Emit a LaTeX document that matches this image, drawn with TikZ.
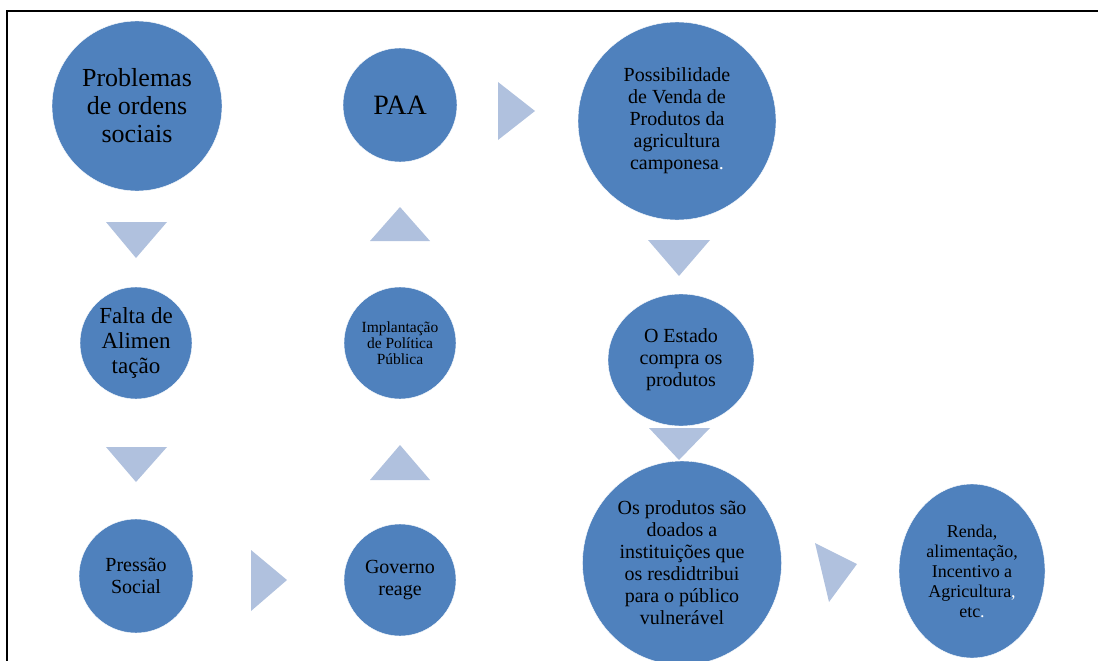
\documentclass[tikz,border=0pt]{standalone}
\usepackage{fontspec}
\setmainfont{Liberation Serif}
\usetikzlibrary{shapes.geometric}
\definecolor{bubbleblue}{RGB}{79,129,189}
\definecolor{chevfill}{RGB}{176,193,222}

\begin{document}
\begin{tikzpicture}[
    x=1pt, y=-1pt,
    % Styles
    bubble/.style={circle, fill=bubbleblue, draw=white, thin, inner sep=0pt, align=center, text=black},
    oval/.style={ellipse, fill=bubbleblue, draw=white, thin, inner sep=0pt, align=center, text=black},
    chev/.style={fill=chevfill, draw=none},
    frame/.style={line width=2pt, black},
]
\useasboundingbox (0,0) rectangle (1098,661);

% Frame
\draw[frame] (7,661) -- (7,11) -- (1098,11);

% LEFT column
\node[bubble, minimum size=170pt, font=\fontsize{26}{28}\selectfont] (problemas) at (137,106) {Problemas\\de ordens\\sociais};
\node[bubble, minimum size=112pt, font=\fontsize{23}{25}\selectfont] (falta) at (136,343) {Falta de\\Alimen\\tação};
\node[bubble, minimum size=114pt, font=\fontsize{20}{22}\selectfont] (pressao) at (136,576) {Pressão\\Social};

% MIDDLE column
\node[bubble, minimum size=112pt, font=\fontsize{20}{22}\selectfont] (governo) at (400,580) {Governo\\reage};
\node[bubble, minimum size=112pt, font=\fontsize{15.5}{16}\selectfont] (implantacao) at (400,343) {Implantação\\de Política\\Pública};
\node[bubble, minimum size=114pt, font=\fontsize{28}{30}\selectfont] (paa) at (400,105) {PAA};

% RIGHT column
\node[bubble, minimum size=198pt, font=\fontsize{20}{22}\selectfont] (venda) at (677,121) {Possibilidade\\de Venda de\\Produtos da\\agricultura\\camponesa\textcolor{white}{.}};
\node[oval, minimum width=146pt, minimum height=132pt, font=\fontsize{20}{22}\selectfont] (estado) at (681,360) {O Estado\\compra os\\produtos};
\node[oval, minimum width=199pt, minimum height=204pt, font=\fontsize{20}{22}\selectfont] (doados) at (682,563) {Os produtos são\\doados a\\instituições que\\os resdidtribui\\para o público\\vulnerável};
\node[oval, minimum width=146pt, minimum height=174pt, font=\fontsize{18}{20}\selectfont] (renda) at (972,571) {Renda,\\alimentação,\\Incentivo a\\Agricultura\textcolor{white}{,}\\etc\textcolor{white}{.}};

% Chevrons between the bubbles
\fill[chev] (106,222) -- (167,222) -- (136,258) -- cycle; % problemas -> falta
\fill[chev] (106,447) -- (167,447) -- (136,482) -- cycle; % falta -> pressao
\fill[chev] (251,550) -- (287,580) -- (251,611) -- cycle; % pressao -> governo
\fill[chev] (370,480) -- (430,480) -- (400,445) -- cycle; % governo -> implantacao
\fill[chev] (370,241) -- (430,241) -- (400,207) -- cycle; % implantacao -> paa
\fill[chev] (498,82) -- (535,111) -- (498,140) -- cycle;  % paa -> venda
\fill[chev] (648,240) -- (710,240) -- (679,276) -- cycle; % venda -> estado
\fill[chev] (649,428) -- (710,428) -- (679,460) -- cycle; % estado -> doados
\fill[chev] (815,543) -- (857,564) -- (829,602) -- cycle; % doados -> renda

\end{tikzpicture}
\end{document}
